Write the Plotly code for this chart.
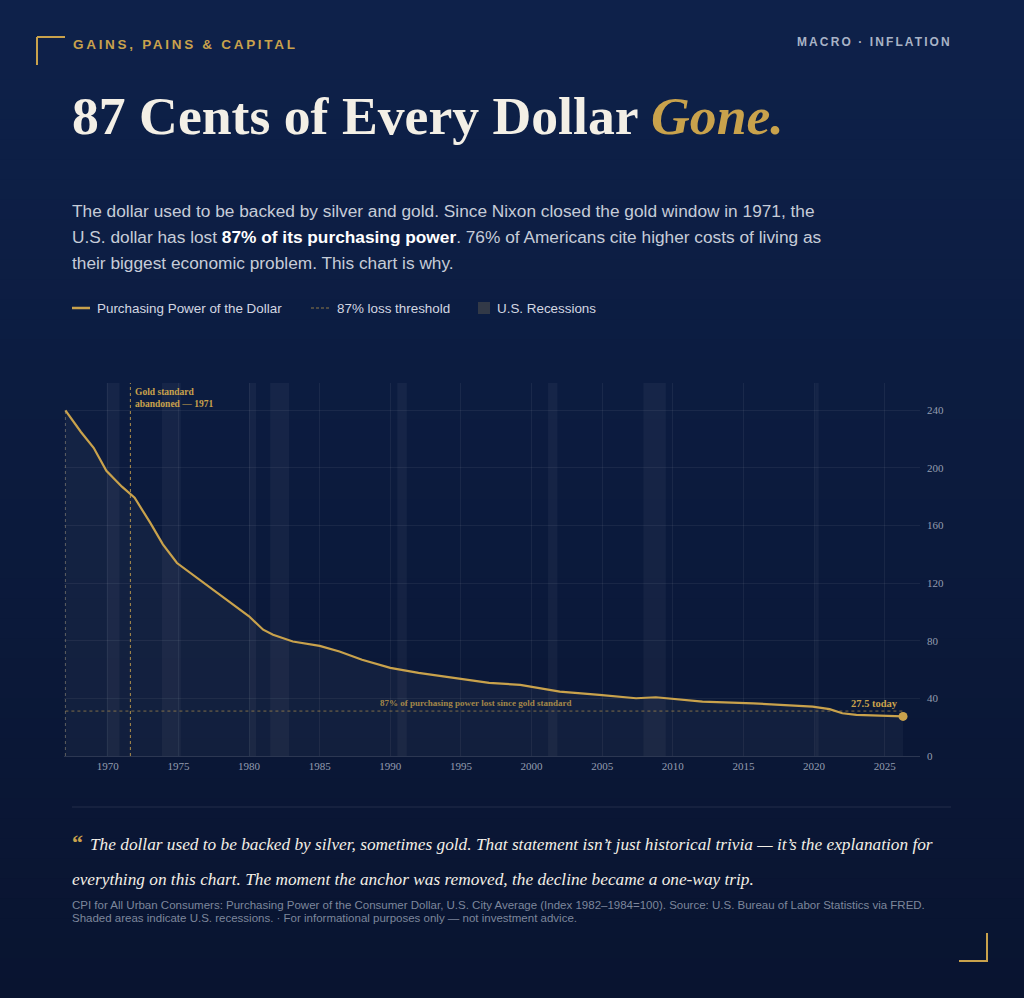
import plotly.graph_objects as go

# Purchasing power of the dollar
years = [1967.0, 1968.1, 1969.0, 1969.9, 1971.0, 1971.6, 1971.9, 1973.0, 1973.9, 1974.9,
         1976.5, 1978.4, 1980.0, 1981.0, 1981.7, 1983.1, 1985.0, 1986.4, 1988.0, 1990.0,
         1992.0, 1995.0, 1997.0, 1999.2, 2002.0, 2004.8, 2007.4, 2008.8, 2010.3, 2012.1,
         2015.7, 2019.9, 2021.1, 2022.0, 2023.0, 2024.6, 2026.3]
power = [240, 225, 214, 198, 187, 182, 179.3, 162, 147, 134,
         122.4, 108.5, 97, 87.7, 84.2, 79.5, 76.5, 72.6, 66.8, 61.2,
         57.7, 53.6, 50.8, 49.4, 44.7, 42.4, 40.1, 40.8, 39.4, 37.8,
         36.6, 34.3, 32.5, 29.7, 28.5, 27.8, 27.5]

# NBER recessions
rec_start = [1969.92, 1973.83, 1980.0, 1981.5, 1990.5, 2001.17, 2007.92, 2020.08]
rec_end = [1970.83, 1975.17, 1980.5, 1982.83, 1991.17, 2001.83, 2009.5, 2020.33]

gold_year = 1971.6
threshold = 31.2
x_ticks = [1970, 1975, 1980, 1985, 1990, 1995, 2000, 2005, 2010, 2015, 2020, 2025]
y_ticks = [0, 40, 80, 120, 160, 200, 240]

W, H = 1024, 998
GOLD = "#c9a24c"
CREAM = "#f3efe6"
SERIF = "Liberation Serif, Times New Roman, serif"
SANS = "Liberation Sans, Arial, sans-serif"


def px(x):
    return x / W


def py(y):
    return 1 - y / H


fig = go.Figure()

# area + line
fig.add_trace(go.Scatter(
    x=years, y=power, mode="lines",
    line=dict(color=GOLD, width=2.2),
    fill="tozeroy", fillcolor="rgba(255,255,255,0.035)",
    hoverinfo="skip", showlegend=False
))
# end dot
fig.add_trace(go.Scatter(
    x=[years[-1]], y=[power[-1]], mode="markers",
    marker=dict(color=GOLD, size=9),
    hoverinfo="skip", showlegend=False
))

shapes = []

# background gradient (vertical), bands overlap a little so no seams show
top, bot = (14, 33, 74), (9, 20, 48)
steps = 50
for i in range(steps):
    t = i / (steps - 1)
    c = tuple(round(top[k] + (bot[k] - top[k]) * t) for k in range(3))
    shapes.append(dict(type="rect", xref="paper", yref="paper", layer="below",
                       x0=0, x1=1, y0=max(0, 1 - (i + 1) / steps - 0.004), y1=1 - i / steps,
                       fillcolor="rgb(%d,%d,%d)" % c, line=dict(width=0)))

# recessions
for s, e in zip(rec_start, rec_end):
    shapes.append(dict(type="rect", xref="x", yref="y domain", x0=s, x1=e, y0=0, y1=1,
                       fillcolor="rgba(255,255,255,0.045)", line=dict(width=0), layer="below"))

# gold standard line
shapes.append(dict(type="line", xref="x", yref="y domain", x0=gold_year, x1=gold_year, y0=0, y1=1,
                   line=dict(color="rgba(201,162,76,0.85)", width=1, dash="3px,3px")))
# start marker
shapes.append(dict(type="line", xref="x", yref="y", x0=years[0], x1=years[0], y0=0, y1=power[0],
                   line=dict(color="rgba(190,175,140,0.45)", width=1, dash="3px,3px")))
# threshold
shapes.append(dict(type="line", xref="x", yref="y", x0=years[0], x1=years[-1], y0=threshold, y1=threshold,
                   line=dict(color="rgba(201,162,76,0.6)", width=1, dash="3px,3px")))

# corner brackets
bracket = dict(color=GOLD, width=2)
shapes += [
    dict(type="line", xref="paper", yref="paper", x0=px(37), x1=px(65), y0=py(37), y1=py(37), line=bracket),
    dict(type="line", xref="paper", yref="paper", x0=px(37), x1=px(37), y0=py(37), y1=py(65), line=bracket),
    dict(type="line", xref="paper", yref="paper", x0=px(959), x1=px(988), y0=py(961), y1=py(961), line=bracket),
    dict(type="line", xref="paper", yref="paper", x0=px(987), x1=px(987), y0=py(933), y1=py(961), line=bracket),
]

# legend swatches
shapes += [
    dict(type="line", xref="paper", yref="paper", x0=px(72), x1=px(90), y0=py(308), y1=py(308),
         line=dict(color=GOLD, width=2.5)),
    dict(type="line", xref="paper", yref="paper", x0=px(311), x1=px(329), y0=py(308), y1=py(308),
         line=dict(color="rgba(201,162,76,0.7)", width=1, dash="3px,2px")),
    dict(type="rect", xref="paper", yref="paper", x0=px(478), x1=px(490), y0=py(314), y1=py(302),
         fillcolor="#323947", line=dict(width=0)),
]

# separator
shapes.append(dict(type="line", xref="paper", yref="paper", x0=px(72), x1=px(951), y0=py(807), y1=py(807),
                   line=dict(color="rgba(255,255,255,0.1)", width=1)))

ann = []


def text(x, y, s, size, color, family=SANS, xanchor="left", **kw):
    ann.append(dict(x=px(x), y=py(y), xref="paper", yref="paper", text=s, showarrow=False,
                    xanchor=xanchor, yanchor="middle", align="left",
                    font=dict(size=size, color=color, family=family), **kw))


text(71, 44, "<b><span style='letter-spacing:2.7px'>GAINS, PAINS &amp; CAPITAL</span></b>", 13.5, GOLD)
text(954, 42, "<b><span style='letter-spacing:2.1px'>MACRO · INFLATION</span></b>", 12, "#a9b3c6",
     xanchor="right")
text(70, 116, "<b>87 Cents of Every Dollar <i><span style='color:%s'>Gone.</span></i></b>" % GOLD,
     53.7, CREAM, family=SERIF)

body = "#c6ccd8"
text(70, 211, "The dollar used to be backed by silver and gold. Since Nixon closed the gold window in 1971, the",
     17.3, body)
text(70, 237, "U.S. dollar has lost <b><span style='color:#ffffff'>87% of its purchasing power</span></b>. "
     "76% of Americans cite higher costs of living as", 17.3, body)
text(70, 263, "their biggest economic problem. This chart is why.", 17.3, body)

leg = "#d3d7e1"
text(95, 308, "Purchasing Power of the Dollar", 13.4, leg)
text(335, 308, "87% loss threshold", 13.4, leg)
text(495, 308, "U.S. Recessions", 13.4, leg)

text(70, 842, "<b>“</b>", 22, GOLD, family=SERIF)
text(88, 844, "<i>The dollar used to be backed by silver, sometimes gold. That statement isn’t just historical "
     "trivia — it’s the explanation for</i>", 17.3, CREAM, family=SERIF)
text(70, 879, "<i>everything on this chart. The moment the anchor was removed, the decline became a one-way trip.</i>",
     17.3, CREAM, family=SERIF)

foot = "#7d879c"
text(70, 905, "CPI for All Urban Consumers: Purchasing Power of the Consumer Dollar, U.S. City Average "
     "(Index 1982–1984=100). Source: U.S. Bureau of Labor Statistics via FRED.", 11.5, foot)
text(70, 918, "Shaded areas indicate U.S. recessions. · For informational purposes only — not investment advice.",
     11.5, foot)

# chart annotations
ann.append(dict(x=gold_year, y=1, xref="x", yref="y domain", xanchor="left", yanchor="top",
                xshift=3, yshift=-2, showarrow=False, align="left",
                text="<b>Gold standard<br>abandoned — 1971</b>",
                font=dict(size=9.5, color=GOLD, family=SERIF)))
ann.append(dict(x=1996.0, y=threshold, xref="x", yref="y", xanchor="center", yanchor="bottom",
                yshift=1, showarrow=False,
                text="<b>87% of purchasing power lost since gold standard</b>",
                font=dict(size=9, color="rgba(201,162,76,0.8)", family=SERIF)))
ann.append(dict(x=2024.3, y=power[-1], xref="x", yref="y", xanchor="center", yanchor="bottom",
                yshift=5, showarrow=False,
                text="<b>%.1f today</b>" % power[-1],
                font=dict(size=10.5, color=GOLD, family=SERIF)))

fig.update_layout(
    width=W, height=H, autosize=False,
    margin=dict(l=0, r=0, t=0, b=0, pad=0, autoexpand=False),
    paper_bgcolor="#091430",
    plot_bgcolor="rgba(0,0,0,0)",
    shapes=shapes,
    annotations=ann,
    showlegend=False,
    xaxis=dict(
        domain=[px(64), px(920)],
        range=[1966.9, 2027.5],
        tickvals=x_ticks,
        tickfont=dict(family=SERIF, size=11, color="#949db0"),
        showgrid=True, gridcolor="rgba(255,255,255,0.06)",
        showline=True, linecolor="rgba(255,255,255,0.14)", linewidth=1,
        zeroline=False, fixedrange=True, automargin=False,
    ),
    yaxis=dict(
        domain=[py(756), py(383)],
        range=[0, 259],
        side="right",
        tickvals=y_ticks,
        tickfont=dict(family=SERIF, size=11, color="#949db0"),
        ticklabelstandoff=6,
        showgrid=True, gridcolor="rgba(255,255,255,0.06)",
        zeroline=False, showline=False, fixedrange=True, automargin=False,
    ),
)

fig.write_html("out.html", config={"displayModeBar": False, "responsive": False},
               post_script="document.body.style.margin='0';document.body.style.overflow='hidden';"
                           "document.body.style.background='#091430';")
